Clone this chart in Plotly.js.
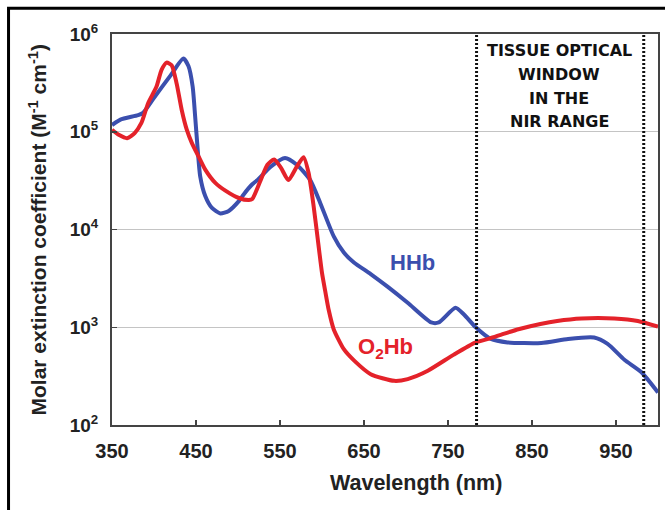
<!DOCTYPE html>
<html><head><meta charset="utf-8">
<script src="https://cdn.plot.ly/plotly-3.0.1.min.js"></script>
<style>html,body{margin:0;padding:0;background:#fff;overflow:hidden}#chart{width:665px;height:510px}</style>
</head><body><div id="chart"></div>
<script>
// Deoxy-haemoglobin (HHb)
const hhbWavelength = [350, 360, 381, 387, 400, 420, 435, 441, 446, 449, 452, 455, 461, 469, 479, 489, 501, 507, 517, 523, 539, 556, 570, 586, 598, 614, 626, 638, 658, 678, 702, 730, 739, 759, 769, 783, 801, 821, 861, 893, 924, 940, 960, 980, 1000];
const hhbValues = [117000, 133000, 148000, 156000, 222000, 380000, 560000, 470000, 290000, 143000, 66000, 35000, 22000, 16600, 14600, 15500, 19500, 23000, 29000, 32000, 44000, 54000, 46000, 32000, 18600, 8500, 5800, 4600, 3500, 2600, 1780, 1120, 1120, 1580, 1350, 1000, 760, 700, 690, 760, 785, 675, 465, 348, 215];
// Oxy-haemoglobin (O2Hb)
const o2hbWavelength = [350, 358, 368, 377, 385, 393, 403, 409, 415, 421, 427, 433, 439, 445, 453, 461, 473, 485, 501, 513, 517, 527, 535, 543, 551, 560, 570, 578, 584, 590, 595, 600, 604, 608, 614, 626, 638, 658, 686, 702, 726, 757, 783, 800, 815, 835, 860, 880, 909, 948, 976, 1000];
const o2hbValues = [105000, 93000, 86000, 97000, 123000, 196000, 290000, 430000, 510000, 480000, 310000, 167000, 105000, 77000, 56000, 41000, 30000, 25000, 21000, 20000, 20500, 32000, 46000, 52000, 43000, 32000, 44000, 55000, 38000, 17400, 7900, 3600, 2300, 1500, 950, 596, 458, 331, 283, 295, 359, 525, 700, 770, 850, 960, 1080, 1160, 1230, 1230, 1160, 1015];

const xTickValues = [350, 450, 550, 650, 750, 850, 950];
const yTickValues = [1e2, 1e3, 1e4, 1e5, 1e6];
const yTickLabels = ['10<sup>2</sup>', '10<sup>3</sup>', '10<sup>4</sup>', '10<sup>5</sup>', '10<sup>6</sup>'];
const windowBounds = [784, 983];
const windowLabel = ['TISSUE OPTICAL', 'WINDOW', 'IN THE', 'NIR RANGE'];
const seriesNames = ['HHb', 'O<sub>2</sub>Hb'];

const RED = '#e4222a';
const BLUE = '#3b4fae';
const FONT = 'Liberation Sans, Arial, Helvetica, sans-serif';

const traces = [
  {x: hhbWavelength, y: hhbValues, type: 'scatter', mode: 'lines', name: seriesNames[0],
   line: {color: BLUE, width: 4, shape: 'spline', smoothing: 0.6}},
  {x: o2hbWavelength, y: o2hbValues, type: 'scatter', mode: 'lines', name: seriesNames[1],
   line: {color: RED, width: 4, shape: 'spline', smoothing: 0.6}}
];

const shapes = windowBounds.map(b => ({
  type: 'line', xref: 'x', yref: 'paper', x0: b, x1: b, y0: 0, y1: 1,
  line: {color: '#111', width: 3, dash: '2px,2px'}
}));
shapes.push({type: 'rect', xref: 'paper', yref: 'paper',
  x0: -0.1895, x1: 1.3, y0: -0.5, y1: 1.066,
  line: {color: '#000', width: 3}, fillcolor: 'rgba(0,0,0,0)', layer: 'above'});

const labelY = [51, 74, 98, 121];
const annotations = windowLabel.map((t, i) => ({
  text: t, xref: 'paper', yref: 'paper', x: (559 - 112) / 546, y: (425 - labelY[i]) / 391,
  xanchor: 'center', yanchor: 'middle', showarrow: false,
  font: {family: 'DejaVu Sans, sans-serif', size: 16, color: '#111', weight: 'bold'}
}));
annotations.push(
  {text: seriesNames[0], x: 708, y: 3.66, xref: 'x', yref: 'y', showarrow: false,
   font: {family: FONT, size: 22, color: BLUE, weight: 'bold'}},
  {text: seriesNames[1], x: 675, y: 2.79, xref: 'x', yref: 'y', showarrow: false,
   font: {family: FONT, size: 22, color: RED, weight: 'bold'}},
  {text: 'Wavelength (nm)', xref: 'paper', yref: 'paper', x: (416 - 112) / 546, y: (425 - 483) / 391,
   xanchor: 'center', yanchor: 'middle', showarrow: false,
   font: {family: FONT, size: 21.5, color: '#222', weight: 'bold'}},
  {text: 'Molar extinction coefficient (M<sup>-1</sup> cm<sup>-1</sup>)', xref: 'paper', yref: 'paper',
   x: (37 - 112) / 546, y: 0.5, xanchor: 'center', yanchor: 'middle', textangle: -90, showarrow: false,
   font: {family: FONT, size: 21, color: '#222', weight: 'bold'}}
);

const layout = {
  width: 665, height: 510,
  margin: {l: 112, r: 7, t: 34, b: 85, pad: 0},
  paper_bgcolor: '#fff', plot_bgcolor: '#fff',
  showlegend: false,
  xaxis: {range: [350, 1000], tickvals: xTickValues, ticks: 'inside', ticklen: 5, tickwidth: 1.5,
    tickcolor: '#444', showline: true, linecolor: '#444', linewidth: 2, mirror: true,
    showgrid: false, zeroline: false, ticklabelstandoff: 7,
    tickfont: {family: FONT, size: 20, color: '#222', weight: 'bold'}},
  yaxis: {type: 'log', range: [2, 6], tickvals: yTickValues, ticktext: yTickLabels,
    ticks: 'inside', ticklen: 5, tickwidth: 1.5, tickcolor: '#444',
    showline: true, linecolor: '#444', linewidth: 2, mirror: true,
    showgrid: true, gridcolor: '#c4c4c4', gridwidth: 1, zeroline: false, ticklabelstandoff: 8,
    tickfont: {family: FONT, size: 19, color: '#222', weight: 'bold'}},
  shapes: shapes,
  annotations: annotations
};

Plotly.newPlot('chart', traces, layout, {displayModeBar: false, staticPlot: true});
</script>
</body></html>
